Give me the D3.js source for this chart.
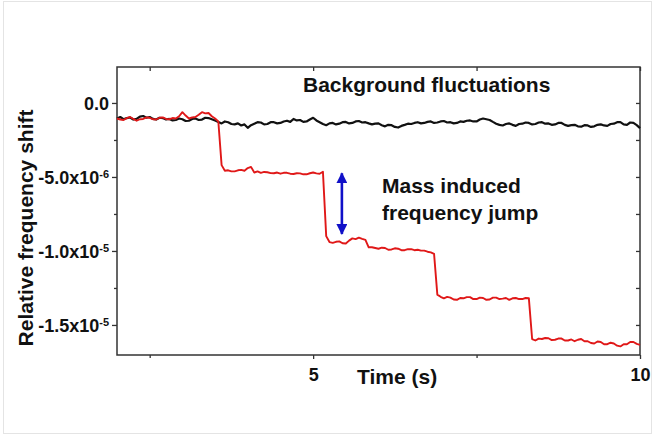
<!DOCTYPE html>
<html>
<head>
<meta charset="utf-8">
<script src="https://cdn.jsdelivr.net/npm/d3@7"></script>
<style>
  body { margin: 0; background: #fff; }
  text { font-family: "Liberation Sans", Arial, sans-serif; font-weight: bold; fill: #111; }
</style>
</head>
<body>
<div id="chart"></div>
<script>
var svgWidth = 654;
var svgHeight = 435;

// background fluctuations, relative shift in units of 1e-6, sampled every 0.05 s from 2 s
var blackShift = [
  -1.05, -0.95, -1.10, -1.02, -0.98, -1.12, -1.08, -0.92, -0.88, -1.00, -0.95, -1.08, -1.12, -1.00, -1.02, -1.12, -1.08, -1.18, -1.15, -1.05,
  -1.10, -1.22, -1.20, -1.08, -1.05, -1.15, -1.12, -1.00, -1.02, -1.10, -1.18, -1.28, -1.38, -1.25, -1.30, -1.42, -1.45, -1.38, -1.52, -1.45,
  -1.68, -1.50, -1.40, -1.30, -1.32, -1.45, -1.42, -1.30, -1.30, -1.38, -1.35, -1.25, -1.20, -1.28, -1.08, -1.18, -1.15, -1.28, -1.25, -1.12,
  -1.00, -1.18, -1.30, -1.42, -1.50, -1.38, -1.35, -1.45, -1.40, -1.30, -1.28, -1.38, -1.35, -1.25, -1.22, -1.32, -1.30, -1.38, -1.45, -1.40,
  -1.38, -1.50, -1.58, -1.48, -1.50, -1.62, -1.66, -1.55, -1.48, -1.40, -1.42, -1.35, -1.30, -1.38, -1.35, -1.28, -1.25, -1.35, -1.32, -1.25,
  -1.22, -1.32, -1.30, -1.38, -1.35, -1.25, -1.28, -1.20, -1.18, -1.25, -1.25, -1.12, -1.05, -1.10, -1.15, -1.28, -1.40, -1.48, -1.52, -1.42,
  -1.38, -1.48, -1.55, -1.42, -1.40, -1.32, -1.35, -1.45, -1.42, -1.32, -1.30, -1.40, -1.38, -1.48, -1.45, -1.35, -1.35, -1.48, -1.55, -1.50,
  -1.48, -1.58, -1.60, -1.50, -1.52, -1.62, -1.58, -1.48, -1.45, -1.52, -1.55, -1.42, -1.40, -1.30, -1.30, -1.45, -1.48, -1.32, -1.35, -1.50,
  -1.70];

// mass-loaded signal, relative shift in units of 1e-6, same sampling
var redShift = [
  -1.05, -1.12, -1.15, -1.02, -0.95, -1.08, -1.20, -1.10, -1.08, -0.98, -1.00, -1.10, -1.12, -1.00, -0.98, -1.08, -1.10, -1.02, -1.05, -0.90,
  -0.62, -0.85, -1.05, -0.98, -0.95, -0.80, -0.62, -0.70, -0.68, -0.90, -1.05, -1.25, -4.20, -4.58, -4.55, -4.62, -4.62, -4.55, -4.52, -4.58,
  -4.40, -4.32, -4.70, -4.62, -4.72, -4.66, -4.68, -4.74, -4.75, -4.70, -4.78, -4.72, -4.72, -4.78, -4.80, -4.75, -4.76, -4.82, -4.82, -4.75,
  -4.70, -4.76, -4.78, -4.65, -9.00, -9.40, -9.45, -9.38, -9.35, -9.48, -9.50, -9.30, -9.15, -9.20, -9.10, -9.18, -9.25, -9.75, -9.75, -9.80,
  -9.85, -9.78, -9.80, -9.92, -9.90, -9.82, -9.85, -9.95, -9.95, -9.88, -9.88, -9.95, -9.92, -9.98, -9.98, -10.05, -10.10, -10.20, -12.95, -13.10,
  -13.20, -13.10, -13.15, -13.28, -13.30, -13.18, -13.20, -13.12, -13.12, -13.25, -13.25, -13.15, -13.18, -13.30, -13.28, -13.15, -13.15, -13.25, -13.22, -13.18,
  -13.30, -13.20, -13.18, -13.25, -13.25, -13.18, -13.20, -15.95, -16.05, -15.92, -15.95, -15.88, -15.90, -16.02, -16.00, -15.92, -15.92, -16.05, -16.05, -15.98,
  -16.10, -16.00, -15.95, -16.10, -16.10, -16.22, -16.25, -16.12, -16.15, -16.30, -16.30, -16.20, -16.25, -16.40, -16.45, -16.30, -16.30, -16.15, -16.15, -16.28,
  -16.35];

// sample times (s)
var time = blackShift.map((d, i) => 2 + i * 0.05);

// ticks
var xMajorTicks = [5, 10];
var xMinorTicks = [2.5, 7.5];
var yMajorTicks = [0, -5, -10, -15];
var yMinorTicks = [-2.5, -7.5, -12.5];
var yTickMantissa = ["0.0", "-5.0x10", "-1.0x10", "-1.5x10"];
var yTickExponent = ["", "-6", "-5", "-5"];

// annotation arrow (time, shift from, shift to)
var arrowTime = 5.44;
var arrowFrom = -4.75;
var arrowTo = -8.85;

var margin = { top: 67, right: 14, bottom: 80, left: 117 };
var width = svgWidth - margin.left - margin.right;
var height = svgHeight - margin.top - margin.bottom;

var svg = d3.select('#chart')
  .append('svg')
  .attr('width', svgWidth)
  .attr('height', svgHeight);

// faint frame around the picture
svg.append('rect')
  .attr('x', 3.5).attr('y', 1.5)
  .attr('width', svgWidth - 6).attr('height', svgHeight - 3)
  .attr('fill', 'none')
  .attr('stroke', '#e4e4e4');

var chartGroup = svg.append('g')
  .attr('transform', `translate(${margin.left}, ${margin.top})`);

var xScale = d3.scaleLinear().domain([2, 10]).range([0, width]);
var yScale = d3.scaleLinear().domain([-17.03, 2.43]).range([height, 0]);

function styleAxis(g) {
  g.select('.domain').remove();
  g.selectAll('line').attr('stroke', '#333').attr('stroke-width', 1.3);
  g.selectAll('text').attr('font-family', null).attr('fill', '#111');
}

// bottom axis
chartGroup.append('g')
  .attr('transform', `translate(0, ${height})`)
  .call(d3.axisBottom(xScale).tickValues(xMajorTicks).tickSize(4).tickPadding(9)
    .tickFormat(d3.format('d')))
  .call(styleAxis)
  .selectAll('text').attr('font-size', 18);

chartGroup.append('g')
  .attr('transform', `translate(0, ${height})`)
  .call(d3.axisBottom(xScale).tickValues(xMinorTicks).tickSize(3).tickFormat(''))
  .call(styleAxis);

// top mirror ticks
chartGroup.append('g')
  .call(d3.axisBottom(xScale).tickValues(xMajorTicks.concat(xMinorTicks)).tickSize(4).tickFormat(''))
  .call(styleAxis);

// left axis with x10^n labels
var leftAxis = chartGroup.append('g')
  .call(d3.axisLeft(yScale).tickValues(yMajorTicks).tickSize(5).tickPadding(3).tickFormat(''))
  .call(styleAxis);

leftAxis.selectAll('.tick text')
  .attr('font-size', 18)
  .attr('dy', '0.34em')
  .each(function(d, i) {
    var t = d3.select(this);
    t.append('tspan').text(yTickMantissa[i]);
    if (yTickExponent[i]) {
      t.append('tspan').attr('dy', '-0.55em').attr('font-size', 11).text(yTickExponent[i]);
    }
  });

chartGroup.append('g')
  .call(d3.axisLeft(yScale).tickValues(yMinorTicks).tickSize(3).tickFormat(''))
  .call(styleAxis);

// right mirror ticks
chartGroup.append('g')
  .attr('transform', `translate(${width}, 0)`)
  .call(d3.axisLeft(yScale).tickValues(yMajorTicks.concat(yMinorTicks)).tickSize(4).tickFormat(''))
  .call(styleAxis);

// plot frame
chartGroup.append('rect')
  .attr('width', width)
  .attr('height', height)
  .attr('fill', 'none')
  .attr('stroke', '#333')
  .attr('stroke-width', 1.5);

// lines
var line = d3.line()
  .x(d => xScale(d[0]))
  .y(d => yScale(d[1]));

chartGroup.append('path')
  .datum(d3.zip(time, blackShift))
  .attr('d', line)
  .attr('fill', 'none')
  .attr('stroke', '#111')
  .attr('stroke-width', 2.2)
  .attr('stroke-linejoin', 'round');

chartGroup.append('path')
  .datum(d3.zip(time, redShift))
  .attr('d', line)
  .attr('fill', 'none')
  .attr('stroke', '#e01818')
  .attr('stroke-width', 1.9)
  .attr('stroke-linejoin', 'round');

// double arrow
svg.append('defs').append('marker')
  .attr('id', 'head')
  .attr('viewBox', '0 0 10 10')
  .attr('refX', 9).attr('refY', 5)
  .attr('markerUnits', 'userSpaceOnUse')
  .attr('markerWidth', 11).attr('markerHeight', 11)
  .attr('orient', 'auto-start-reverse')
  .append('path')
  .attr('d', 'M0,0 L10,5 L0,10 z')
  .attr('fill', '#1010c8');

chartGroup.append('line')
  .attr('x1', xScale(arrowTime)).attr('x2', xScale(arrowTime))
  .attr('y1', yScale(arrowFrom)).attr('y2', yScale(arrowTo))
  .attr('stroke', '#1010c8')
  .attr('stroke-width', 2.6)
  .attr('marker-start', 'url(#head)')
  .attr('marker-end', 'url(#head)');

// texts
svg.append('text')
  .attr('x', 303).attr('y', 92)
  .attr('font-size', 21)
  .text('Background fluctuations');

svg.append('text')
  .attr('x', 382).attr('y', 193)
  .attr('font-size', 21)
  .text('Mass induced');

svg.append('text')
  .attr('x', 382).attr('y', 220)
  .attr('font-size', 21)
  .text('frequency jump');

svg.append('text')
  .attr('x', 357).attr('y', 384)
  .attr('font-size', 21)
  .text('Time (s)');

svg.append('text')
  .attr('transform', 'translate(33, 228) rotate(-90)')
  .attr('text-anchor', 'middle')
  .attr('font-size', 21)
  .text('Relative frequency shift');
</script>
</body>
</html>
